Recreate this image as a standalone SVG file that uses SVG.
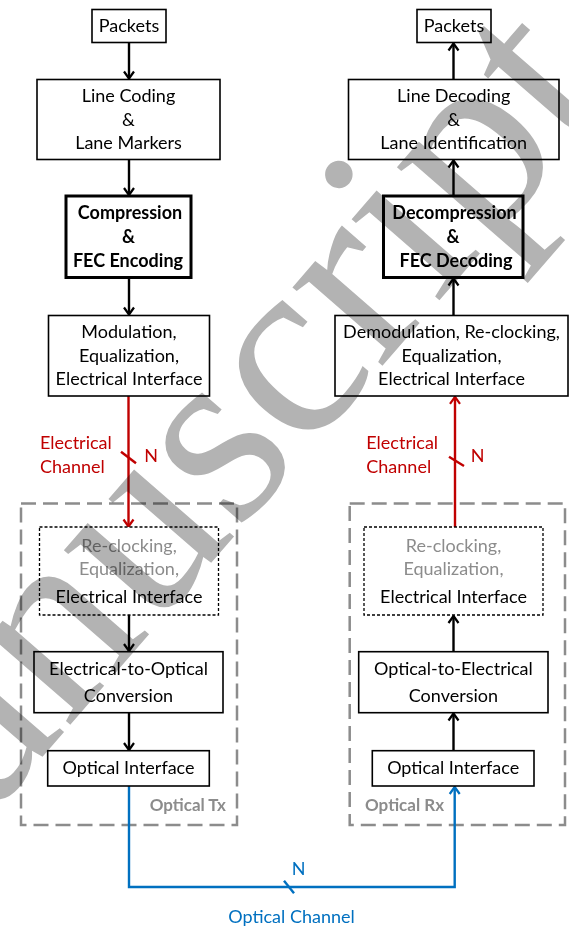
<svg xmlns="http://www.w3.org/2000/svg" width="569" height="929" viewBox="0 0 569 929">
  <style>
    text { font-family: Lato, "Open Sans", "DejaVu Sans", sans-serif; font-size: 18px; fill: #000; text-anchor: middle; }
    .b { font-weight: bold; }
    .g { fill: #8c8c8c; }
    .red { fill: #c00000; text-anchor: start; }
    .blue { fill: #0070c0; }
    .lbl { font-weight: bold; fill: #8c8c8c; font-size: 17px; }
    .box { fill: #fff; stroke: #000; stroke-width: 1.6; }
    .thick { fill: #fff; stroke: #000; stroke-width: 3; }
    .dot { fill: #fff; stroke: #000; stroke-width: 1.3; stroke-dasharray: 3 2; }
    .frame { fill: none; stroke: #8c8c8c; stroke-width: 2.5; stroke-dasharray: 15 7; }
    .k { fill: none; stroke: #000; stroke-width: 2.4; }
    .r { fill: none; stroke: #c00000; stroke-width: 2.4; }
    .bl { fill: none; stroke: #0070c0; stroke-width: 2.4; }
    .wm { font-family: "Liberation Serif", "DejaVu Serif", serif; font-size: 260px; fill: #b3b3b3; text-anchor: start; mix-blend-mode: multiply; }
  </style>
  <defs>
    <marker id="ak" markerUnits="userSpaceOnUse" markerWidth="14" markerHeight="14" viewBox="-9 -7 11 14" refX="0" refY="0" orient="auto">
      <path d="M-7,-5 L0,0 L-7,5" fill="none" stroke="#000" stroke-width="2.2"/>
    </marker>
    <marker id="ar" markerUnits="userSpaceOnUse" markerWidth="14" markerHeight="14" viewBox="-9 -7 11 14" refX="0" refY="0" orient="auto">
      <path d="M-7,-5 L0,0 L-7,5" fill="none" stroke="#c00000" stroke-width="2.2"/>
    </marker>
    <marker id="ab" markerUnits="userSpaceOnUse" markerWidth="14" markerHeight="14" viewBox="-9 -7 11 14" refX="0" refY="0" orient="auto">
      <path d="M-7,-5 L0,0 L-7,5" fill="none" stroke="#0070c0" stroke-width="2.2"/>
    </marker>
  </defs>

  <rect width="569" height="929" fill="#fff"/>

  <!-- transmitter / receiver module frames -->
  <g id="optical-tx">
    <rect class="frame" x="21" y="503.5" width="216" height="321.5"/>
    <text class="lbl" x="226" y="811" style="text-anchor:end">Optical Tx</text>
  </g>
  <g id="optical-rx">
    <rect class="frame" x="349.7" y="503.5" width="215.3" height="321.5"/>
    <text class="lbl" x="365" y="811" style="text-anchor:start">Optical Rx</text>
  </g>

  <!-- connectors -->
  <g id="connectors">
    <line class="k" x1="129" y1="42.5" x2="129" y2="78.5" marker-end="url(#ak)"/>
    <line class="k" x1="129" y1="159.5" x2="129" y2="195" marker-end="url(#ak)"/>
    <line class="k" x1="129" y1="277.7" x2="129" y2="314.5" marker-end="url(#ak)"/>
    <line class="k" x1="129" y1="615" x2="129" y2="651" marker-end="url(#ak)"/>
    <line class="k" x1="129" y1="712.7" x2="129" y2="750" marker-end="url(#ak)"/>

    <line class="k" x1="453.5" y1="79.5" x2="453.5" y2="43.5" marker-end="url(#ak)"/>
    <line class="k" x1="453.5" y1="196" x2="453.5" y2="160.5" marker-end="url(#ak)"/>
    <line class="k" x1="453.5" y1="315" x2="453.5" y2="278.5" marker-end="url(#ak)"/>
    <line class="k" x1="453.5" y1="651.7" x2="453.5" y2="616" marker-end="url(#ak)"/>
    <line class="k" x1="453.5" y1="750.7" x2="453.5" y2="713.5" marker-end="url(#ak)"/>

    <!-- electrical channels -->
    <line class="r" x1="128.5" y1="396" x2="128.5" y2="526.5" marker-end="url(#ar)"/>
    <line class="r" x1="121" y1="451.7" x2="136" y2="463.3"/>
    <line class="r" x1="455" y1="527" x2="455" y2="396.8" marker-end="url(#ar)"/>
    <line class="r" x1="449" y1="456.7" x2="464" y2="466"/>

    <!-- optical channel -->
    <path class="bl" d="M129,786 V887 H454.7 V787" marker-end="url(#ab)"/>
    <line class="bl" x1="284" y1="880.7" x2="294" y2="893.3"/>
  </g>

  <!-- channel labels -->
  <g id="channel-labels">
    <text class="red" x="40" y="449.3">Electrical</text>
    <text class="red" x="40" y="472.7">Channel</text>
    <text class="red" x="144.3" y="461.7">N</text>
    <text class="red" x="366.3" y="449">Electrical</text>
    <text class="red" x="366.3" y="472.5">Channel</text>
    <text class="red" x="470.7" y="461.7">N</text>
    <text class="blue" x="298.5" y="875">N</text>
    <text class="blue" x="291.5" y="922.5">Optical Channel</text>
  </g>

  <!-- transmit chain -->
  <g id="tx-packets">
    <rect class="box" x="92" y="9.5" width="74" height="33"/>
    <text x="129" y="31.5">Packets</text>
  </g>
  <g id="tx-line-coding">
    <rect class="box" x="37" y="79.5" width="183" height="80"/>
    <text x="128.5" y="102">Line Coding</text>
    <text x="128.5" y="125.5">&amp;</text>
    <text x="128.5" y="149">Lane Markers</text>
  </g>
  <g id="tx-compression">
    <rect class="thick" x="66" y="196" width="125" height="81.5"/>
    <text class="b" x="130" y="219.3">Compression</text>
    <text class="b" x="128.5" y="242.7">&amp;</text>
    <text class="b" x="128" y="266.7">FEC Encoding</text>
  </g>
  <g id="tx-modulation">
    <rect class="box" x="48.5" y="315.5" width="161" height="80.5"/>
    <text x="129" y="337.7">Modulation,</text>
    <text x="129" y="361.7">Equalization,</text>
    <text x="129" y="385">Electrical Interface</text>
  </g>
  <g id="tx-electrical-interface">
    <rect class="dot" x="39.5" y="527" width="179" height="88"/>
    <text class="g" x="129" y="551.7">Re-clocking,</text>
    <text class="g" x="129" y="575">Equalization,</text>
    <text x="129" y="602.7">Electrical Interface</text>
  </g>
  <g id="tx-eo-conversion">
    <rect class="box" x="34" y="651.7" width="189" height="61"/>
    <text x="128.5" y="675">Electrical-to-Optical</text>
    <text x="128.5" y="701.7">Conversion</text>
  </g>
  <g id="tx-optical-interface">
    <rect class="box" x="47.7" y="750.7" width="161.6" height="35.3"/>
    <text x="128.5" y="774">Optical Interface</text>
  </g>

  <!-- receive chain -->
  <g id="rx-packets">
    <rect class="box" x="417" y="9.5" width="74" height="33"/>
    <text x="454" y="31.5">Packets</text>
  </g>
  <g id="rx-line-decoding">
    <rect class="box" x="348.5" y="79.5" width="210.5" height="80"/>
    <text x="453.7" y="102">Line Decoding</text>
    <text x="453.7" y="125.5">&amp;</text>
    <text x="453.7" y="149">Lane Identification</text>
  </g>
  <g id="rx-decompression">
    <rect class="thick" x="383.5" y="196" width="139.5" height="81.5"/>
    <text class="b" x="454.5" y="219.3">Decompression</text>
    <text class="b" x="453" y="242.7">&amp;</text>
    <text class="b" x="456" y="266.7">FEC Decoding</text>
  </g>
  <g id="rx-demodulation">
    <rect class="box" x="335" y="315.5" width="233" height="80.5"/>
    <text x="451.5" y="337.7">Demodulation, Re-clocking,</text>
    <text x="451.5" y="361.7">Equalization,</text>
    <text x="451.5" y="385">Electrical Interface</text>
  </g>
  <g id="rx-electrical-interface">
    <rect class="dot" x="364" y="527" width="179" height="88"/>
    <text class="g" x="453.5" y="551.7">Re-clocking,</text>
    <text class="g" x="453.5" y="575">Equalization,</text>
    <text x="453.5" y="602.7">Electrical Interface</text>
  </g>
  <g id="rx-oe-conversion">
    <rect class="box" x="358.7" y="651.7" width="189.3" height="61"/>
    <text x="453.4" y="675">Optical-to-Electrical</text>
    <text x="453.4" y="701.7">Conversion</text>
  </g>
  <g id="rx-optical-interface">
    <rect class="box" x="372.3" y="750.7" width="161.7" height="35.3"/>
    <text x="453.2" y="774">Optical Interface</text>
  </g>

  <!-- watermark lettering across the page -->
  <g id="watermark">
    <text class="wm" transform="translate(-142,969) rotate(-49)">manuscript</text>
  </g>
</svg>
